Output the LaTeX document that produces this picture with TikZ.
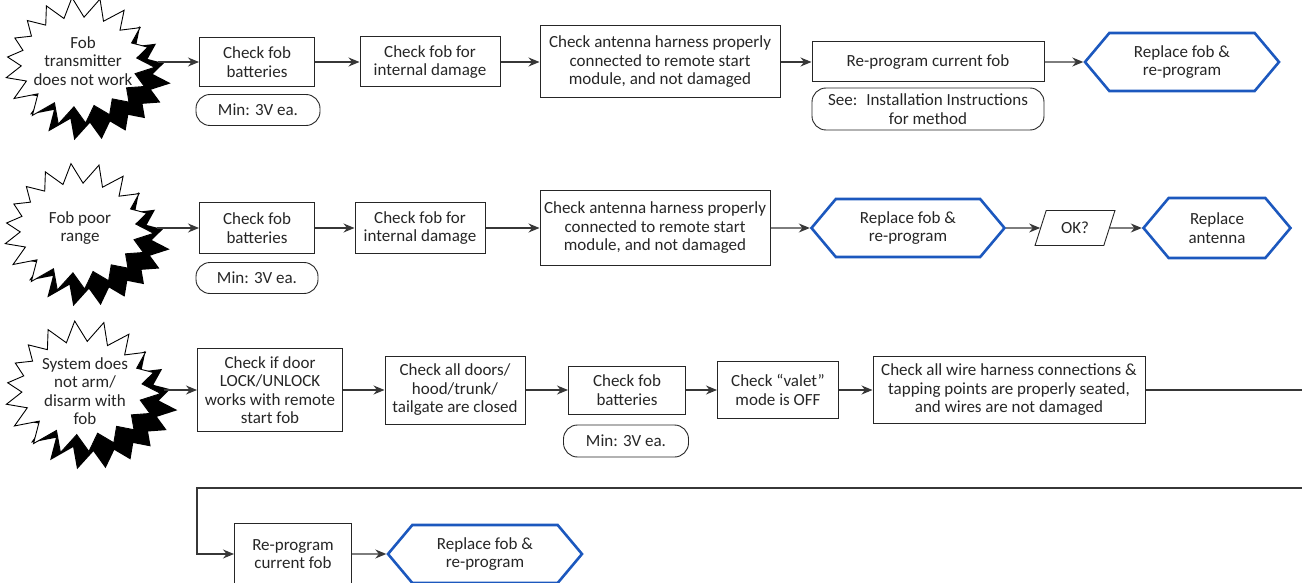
\documentclass[tikz,border=0pt]{standalone}
\usepackage{fontspec}
\setmainfont{Carlito}
\usetikzlibrary{positioning,arrows.meta,shapes.symbols,shapes.geometric}
\definecolor{hexblue}{RGB}{28,88,190}
\definecolor{wire}{RGB}{55,55,55}
\tikzset{
	pics/burst/.style={code={
		%SHADOW
		\fill[black,shift={(16,16)}] plot[samples at={0,...,35},variable=\k]
			({(mod(\k,2)==0 ? 76*(1+0.07*sin(157*\k)) : 58)*cos(\k*10+5)},{(mod(\k,2)==0 ? 61*(1+0.07*sin(157*\k)) : 45)*sin(\k*10+5)}) -- cycle;
		%STAR
		\filldraw[fill=white,draw=black,line width=0.9pt] plot[samples at={0,...,35},variable=\k]
			({(mod(\k,2)==0 ? 76*(1+0.07*sin(157*\k)) : 58)*cos(\k*10+5)},{(mod(\k,2)==0 ? 61*(1+0.07*sin(157*\k)) : 45)*sin(\k*10+5)}) -- cycle;
		\coordinate (-e) at (79,0);
	}}}

\begin{document}
\begin{tikzpicture}[x=1pt,y=-1pt,
	font=\fontsize{17}{18.5}\selectfont,
	box/.style={draw=black!85,line width=1pt,align=center,inner sep=2pt,text=black!85},
	pill/.style={draw=black!85,line width=0.9pt,rounded corners=14pt,align=center,text=black!85},
	hexa/.style={shape=signal,signal to=west and east,signal pointer angle=100,draw=hexblue,line width=2.6pt,align=center,text=black!85},
	bursttext/.style={align=center,text=black!85,inner sep=0pt},
	go/.style={draw=wire,line width=1.1pt,-{Stealth[length=11pt,width=9pt]}},
	link/.style={draw=wire,line width=1.1pt}]
					\useasboundingbox (0,0) rectangle (1302,583);
					%ROW 1
					\pic (p1) at (79,62) {burst};
					\node[bursttext] (s1) at (83,61) {Fob\\transmitter\\does not work};
					\node[box,minimum width=115pt,minimum height=49pt] (b11) at (257,62) {Check fob\\batteries};
					\node[pill,minimum width=124pt,minimum height=31pt] (m11) at (258,110) {Min: 3V ea.};
					\node[box,minimum width=140pt,minimum height=50pt] (b12) at (430,62) {Check fob for\\internal damage};
					\node[box,minimum width=240pt,minimum height=72pt] (b13) at (660,62) {Check antenna harness properly\\connected to remote start\\module, and not damaged};
					\node[box,minimum width=232pt,minimum height=40pt] (b14) at (928,62) {Re-program current fob};
					\node[pill,minimum width=232pt,minimum height=42pt] (m14) at (928,109) {See:~ Installation Instructions\\for method};
					\node[hexa,minimum width=194pt,minimum height=58pt] (h15) at (1182,62) {Replace fob \&\\re-program};
					\draw[go] (p1-e) -- (b11.west);
					\draw[go] (b11) -- (b12);
					\draw[go] (b12) -- (b13);
					\draw[go] (b13) -- (b14);
					\draw[go] (b14) -- (h15);
					%ROW 2
					\pic (p2) at (78,228) {burst};
					\node[bursttext] (s2) at (80,228) {Fob poor\\range};
					\node[box,minimum width=115pt,minimum height=50pt] (b21) at (257,228) {Check fob\\batteries};
					\node[pill,minimum width=122pt,minimum height=31pt] (m21) at (257,278) {Min: 3V ea.};
					\node[box,minimum width=130pt,minimum height=50pt] (b22) at (420,228) {Check fob for\\internal damage};
					\node[box,minimum width=230pt,minimum height=74pt] (b23) at (655,228) {Check antenna harness properly\\connected to remote start\\module, and not damaged};
					\node[hexa,minimum width=193pt,minimum height=58pt] (h24) at (908,228) {Replace fob \&\\re-program};
					\node[trapezium,trapezium left angle=70,trapezium right angle=110,trapezium stretches=true,draw=black!85,line width=0.9pt,
						minimum width=80pt,minimum height=35pt,text=black!85] (ok25) at (1075,228) {OK?};
					\node[hexa,minimum width=147pt,minimum height=60pt] (h26) at (1217,228) {Replace\\antenna};
					\draw[go] (p2-e) -- (b21.west);
					\draw[go] (b21) -- (b22);
					\draw[go] (b22) -- (b23);
					\draw[go] (b23) -- (h24);
					\draw[go] (h24) -- (ok25);
					\draw[go] (ok25) -- (h26);
					%ROW 3
					\pic[scale=1.04] (p3) at (82,388) {burst};
					\node[bursttext] (s3) at (85,391) {System does\\not arm/\\disarm with\\fob};
					\node[box,minimum width=145pt,minimum height=83pt] (b31) at (270,390) {Check if door\\LOCK/UNLOCK\\works with remote\\start fob};
					\node[box,minimum width=140pt,minimum height=68pt] (b32) at (455,390) {Check all doors/\\hood/trunk/\\tailgate are closed};
					\node[box,minimum width=117pt,minimum height=48pt] (b33) at (627,390) {Check fob\\batteries};
					\node[pill,minimum width=125pt,minimum height=32pt] (m33) at (626,441) {Min: 3V ea.};
					\node[box,minimum width=121pt,minimum height=57pt] (b34) at (778,390) {Check “valet”\\mode is OFF};
					\node[box,minimum width=272pt,minimum height=67pt] (b35) at (1009,390) {Check all wire harness connections \&\\tapping points are properly seated,\\and wires are not damaged};
					\coordinate (edgeA) at (1302,390);
					\draw[go] (p3-e |- b31.west) -- (b31.west);
					\draw[go] (b31) -- (b32);
					\draw[go] (b32) -- (b33);
					\draw[go] (b33) -- (b34);
					\draw[go] (b34) -- (b35);
					\draw[link] (b35.east) -- (edgeA);
					%ROW 4
					\coordinate (edgeB) at (1302,488);
					\coordinate (bend) at (197,488);
					\node[box,minimum width=117pt,minimum height=62pt] (b41) at (293,554) {Re-program\\current fob};
					\node[hexa,minimum width=194pt,minimum height=58pt] (h42) at (485,554) {Replace fob \&\\re-program};
					\draw[go] (edgeB) -- (bend) |- (b41.west);
					\draw[go] (b41) -- (h42);
\end{tikzpicture}
\end{document}
